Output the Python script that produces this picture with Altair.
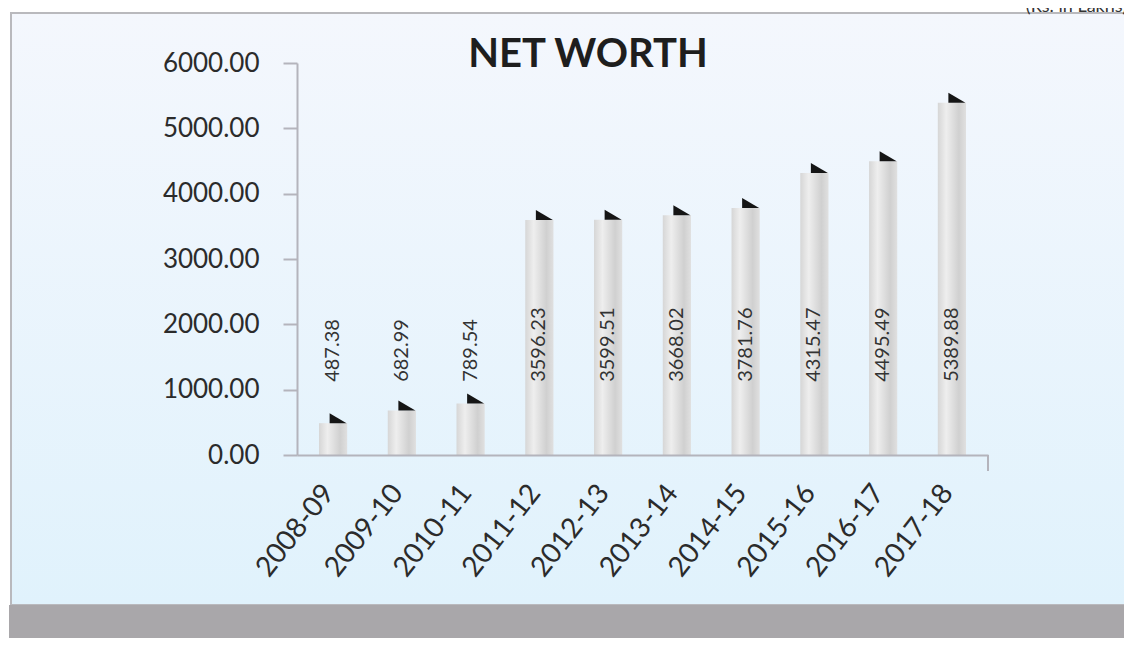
import altair as alt
import pandas as pd

# ---- data ----
years = ["2008-09", "2009-10", "2010-11", "2011-12", "2012-13",
         "2013-14", "2014-15", "2015-16", "2016-17", "2017-18"]
net_worth = [487.38, 682.99, 789.54, 3596.23, 3599.51,
             3668.02, 3781.76, 4315.47, 4495.49, 5389.88]
y_ticks = [0, 1000, 2000, 3000, 4000, 5000, 6000]
title_text = "NET WORTH"
unit_text = "(Rs. in Lakhs)"

df = pd.DataFrame({
    "year": years,
    "value": net_worth,
    "label": [f"{v:.2f}" for v in net_worth],
})
one = pd.DataFrame({"k": [0]})

W, H = 691, 392
AXIS_GRAY = "#b4b4bc"
FONT = "Lato"

x_enc = alt.X(
    "year:N", sort=years,
    scale=alt.Scale(paddingInner=0.59, paddingOuter=0.32),
    axis=alt.Axis(title=None, labelAngle=308, labelAlign="right",
                  labelBaseline="middle", labelPadding=33, labelOffset=-4,
                  ticks=False, tickSize=0, labelFontSize=28, zindex=2,
                  domainColor=AXIS_GRAY, domainWidth=2, labelFont=FONT,
                  labelColor="#2b2b2b"),
)
y_enc = alt.Y(
    "value:Q",
    scale=alt.Scale(domain=[0, 6000], nice=False, zero=True),
    axis=alt.Axis(title=None, values=y_ticks, format=".2f", tickSize=14,
                  labelPadding=24, grid=False, labelFontSize=26, zindex=2,
                  domainColor=AXIS_GRAY, domainWidth=2, tickColor=AXIS_GRAY,
                  tickWidth=2, labelFont=FONT, labelColor="#2b2b2b"),
)

bg_grad = alt.Gradient(
    gradient="linear",
    stops=[alt.GradientStop(color="#f4f7fd", offset=0),
           alt.GradientStop(color="#e0f2fc", offset=1)],
    x1=0, x2=0, y1=0, y2=1,
)
bar_grad = alt.Gradient(
    gradient="linear",
    stops=[alt.GradientStop(color="#d6d6d6", offset=0),
           alt.GradientStop(color="#eeeeee", offset=0.3),
           alt.GradientStop(color="#d0d0d0", offset=0.75),
           alt.GradientStop(color="#e0e0e0", offset=1)],
    x1=0, x2=1, y1=0, y2=0,
)

base = alt.Chart(df)
bars = base.mark_bar(fill=bar_grad).encode(x=x_enc, y=y_enc)

bg = alt.Chart(one).mark_rect(fill=bg_grad, stroke="#b9b9bd", strokeWidth=2).encode(
    x=alt.value(-286), x2=alt.value(840), y=alt.value(-50), y2=alt.value(542)
)
band = alt.Chart(one).mark_rect(color="#a9a7aa").encode(
    x=alt.value(-288), x2=alt.value(840), y=alt.value(542), y2=alt.value(600)
)

flags = base.mark_point(
    shape="M-0.35,-1L-0.35,0L1.35,0Z", size=400, filled=True,
    color="#151515", opacity=1, strokeWidth=0,
).encode(x=x_enc, y=y_enc)
labels = base.mark_text(
    angle=270, align="left", baseline="middle", font=FONT, fontSize=20,
    color="#333333",
).encode(x=x_enc, y=alt.datum(1120), text="label:N")

end_tick = alt.Chart(one).mark_rule(color=AXIS_GRAY, strokeWidth=2).encode(
    x=alt.value(W), y=alt.value(H), y2=alt.value(H + 16)
)
title = alt.Chart(one).mark_text(
    text=title_text, font=FONT, fontWeight="bold", fontSize=40,
    color="#1e1e1e", align="center", baseline="alphabetic",
).encode(x=alt.value(291), y=alt.value(4))
unit = alt.Chart(one).mark_text(
    text=unit_text, font=FONT, fontSize=18, color="#333333",
    align="right", baseline="alphabetic",
).encode(x=alt.value(830), y=alt.value(-51))

chart = alt.layer(bg, band, bars, flags, labels, end_tick, title, unit).properties(
    width=W, height=H,
    padding={"left": 289, "top": 55, "right": 136, "bottom": 183},
    autosize=alt.AutoSizeParams(type="none"),
    background="white",
).configure_view(strokeWidth=0)

chart.save("out.html", embed_options={"renderer": "svg", "actions": False})
